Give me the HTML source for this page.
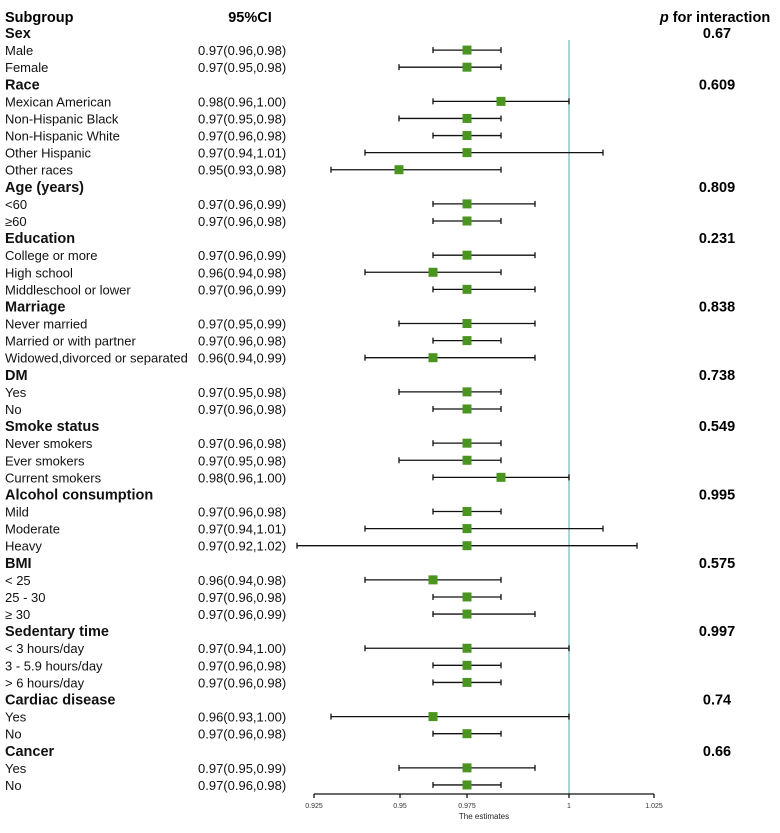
<!DOCTYPE html>
<html><head><meta charset="utf-8"><style>
body{margin:0;background:#fff;width:780px;height:828px;overflow:hidden;font-family:"Liberation Sans",Arial,sans-serif}
svg text{font-family:"Liberation Sans",Arial,sans-serif}
</style></head><body>
<svg id="c" width="780" height="828"></svg>
<script>
const labels=["Sex","Male","Female","Race","Mexican American","Non-Hispanic Black","Non-Hispanic White","Other Hispanic","Other races","Age (years)","<60","≥60","Education","College or more","High school","Middleschool or lower","Marriage","Never married","Married or with partner","Widowed,divorced or separated","DM","Yes","No","Smoke status","Never smokers","Ever smokers","Current smokers","Alcohol consumption","Mild","Moderate","Heavy","BMI","< 25","25 - 30","≥ 30","Sedentary time","< 3 hours/day","3 - 5.9 hours/day","> 6 hours/day","Cardiac disease","Yes","No","Cancer","Yes","No"];
const est=[null,0.97,0.97,null,0.98,0.97,0.97,0.97,0.95,null,0.97,0.97,null,0.97,0.96,0.97,null,0.97,0.97,0.96,null,0.97,0.97,null,0.97,0.97,0.98,null,0.97,0.97,0.97,null,0.96,0.97,0.97,null,0.97,0.97,0.97,null,0.96,0.97,null,0.97,0.97];
const lower=[null,0.96,0.95,null,0.96,0.95,0.96,0.94,0.93,null,0.96,0.96,null,0.96,0.94,0.96,null,0.95,0.96,0.94,null,0.95,0.96,null,0.96,0.95,0.96,null,0.96,0.94,0.92,null,0.94,0.96,0.96,null,0.94,0.96,0.96,null,0.93,0.96,null,0.95,0.96];
const upper=[null,0.98,0.98,null,1.00,0.98,0.98,1.01,0.98,null,0.99,0.98,null,0.99,0.98,0.99,null,0.99,0.98,0.99,null,0.98,0.98,null,0.98,0.98,1.00,null,0.98,1.01,1.02,null,0.98,0.98,0.99,null,1.00,0.98,0.98,null,1.00,0.98,null,0.99,0.98];
const pvals=["0.67",null,null,"0.609",null,null,null,null,null,"0.809",null,null,"0.231",null,null,null,"0.838",null,null,null,"0.738",null,null,"0.549",null,null,null,"0.995",null,null,null,"0.575",null,null,null,"0.997",null,null,null,"0.74",null,null,"0.66",null,null];
const tickVals=[0.925,0.9503,0.97,1.0,1.025];
const tickLabels=["0.925","0.95","0.975","1","1.025"];
const refValue=1;

const NS="http://www.w3.org/2000/svg";
const svg=document.getElementById('c');
const x=v=>467+(v-0.97)*3400;
const y=i=>33+i*17.09;
function mk(t,a,txt){const e=document.createElementNS(NS,t);for(const k in a)e.setAttribute(k,a[k]);if(txt!=null)e.textContent=txt;svg.appendChild(e);return e;}
const fmt=v=>v.toFixed(2);

let e;
e=mk('text',{x:5,y:22,'font-size':14.5,'font-weight':'bold'},'Subgroup');


e=mk('text',{x:250,y:22,'font-size':14.5,'font-weight':'bold','text-anchor':'middle'},'95%CI');


e=mk('text',{x:715,y:22,'font-size':14.5,'font-weight':'bold','text-anchor':'middle'});
e.innerHTML='<tspan font-style="italic">p</tspan> for interaction';



e=mk('line',{x1:x(refValue),x2:x(refValue),y1:40,y2:794,stroke:'#7fb9c9','stroke-width':1.3});



labels.forEach((lab,i)=>{
  const yy=y(i);
  const head=est[i]==null;
  let t=mk('text',{x:5,y:yy+5,'font-size':head?14.5:13,'font-weight':head?'bold':'normal',fill:'#111'},lab);
  
  
  if(pvals[i]!=null){
    t=mk('text',{x:717,y:yy+5,'font-size':14.5,'font-weight':'bold','text-anchor':'middle'},pvals[i]);
    
    
  }
  if(!head){
    t=mk('text',{x:198,y:yy+5,'font-size':13,fill:'#111'},fmt(est[i])+'('+fmt(lower[i])+','+fmt(upper[i])+')');
    
    
    const g=document.createElementNS(NS,'g');svg.appendChild(g);
    
    
    const add=(tag,a)=>{const el=document.createElementNS(NS,tag);for(const k in a)el.setAttribute(k,a[k]);g.appendChild(el);};
    add('line',{x1:x(lower[i]),x2:x(upper[i]),y1:yy,y2:yy,stroke:'#111','stroke-width':1.3});
    add('line',{x1:x(lower[i]),x2:x(lower[i]),y1:yy-3,y2:yy+3,stroke:'#111','stroke-width':1.3});
    add('line',{x1:x(upper[i]),x2:x(upper[i]),y1:yy-3,y2:yy+3,stroke:'#111','stroke-width':1.3});
    const r=mk('rect',{x:x(est[i])-4.5,y:yy-4.5,width:9,height:9,fill:'#4a9420'});
    
    
  }
});

e=mk('line',{x1:x(tickVals[0]),x2:x(tickVals[tickVals.length-1]),y1:794,y2:794,stroke:'#111','stroke-width':1.3});


tickVals.forEach((v,i)=>{
  let l=mk('line',{x1:x(v),x2:x(v),y1:794,y2:798,stroke:'#111','stroke-width':1.3});
  
  
  let t=mk('text',{x:x(v),y:808,'font-size':7,'text-anchor':'middle',fill:'#333'},tickLabels[i]);
  
  
});
e=mk('text',{x:x(0.975),y:819,'font-size':8,'text-anchor':'middle',fill:'#222'},'The estimates');


</script>
</body></html>
